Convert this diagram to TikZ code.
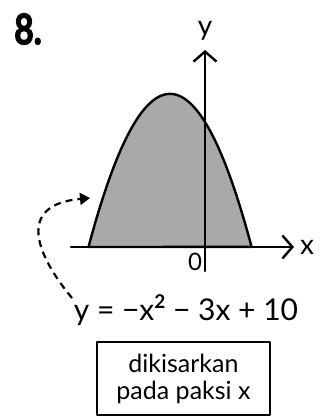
\documentclass[tikz,border=0pt]{standalone}
\usepackage{fontspec}
\setmainfont{Lato}
\newfontfamily\numfont{Lato}[FakeBold=3]
\usepackage{tikz}
\usetikzlibrary{arrows.meta,positioning,calc}
\definecolor{ink}{HTML}{000000}
\definecolor{shade}{HTML}{A8A9AB}
\tikzset{
    every picture/.style={line cap=round,line join=round},
    axisline/.style={draw=ink,line width=2.4pt,
      -{Straight Barb[length=10pt,width=23pt,line width=2.4pt]}},
    curveline/.style={draw=ink,line width=2.4pt,fill=shade},
    bendarrow/.style={draw=ink,line width=2.2pt,dash pattern=on 7pt off 5pt,line cap=butt,
      -{Triangle[length=10pt,width=12pt]}},
    handlabel/.style={text=ink,inner sep=0pt,font=\fontsize{28}{30}\selectfont},
    notebox/.style={draw=ink,line width=2.2pt,minimum width=173pt,minimum height=73pt,
      inner sep=0pt,align=center,font=\fontsize{25}{27}\selectfont}
}

\begin{document}
\begin{tikzpicture}[x=1pt,y=1pt]
  \useasboundingbox (0,0) rectangle (330,417);
  % question number
  \node[inner sep=0pt,font=\numfont\bfseries\fontsize{42}{42}\selectfont] (num) at (28,388)
    {\scalebox{0.8}[1]{8.}};
  % parabola y = -x^2 - 3x + 10
  \coordinate (O) at (205,170);
  \begin{scope}[shift={(O)},x=23.3pt,y=12.5pt]
    \draw[curveline] plot[domain=-5:2,samples=80,smooth] (\x,{-\x*\x-3*\x+10}) -- cycle;
  \end{scope}
  % axes
  \coordinate (xl) at (71,170);  \coordinate (xr) at (294,170);
  \coordinate (yb) at (205,146); \coordinate (yt) at (205,367);
  \draw[axisline] (xl) -- (xr);
  \draw[axisline] (yb) -- (yt);
  \node[handlabel,right=6pt of xr] (xlab) {x};
  \node[handlabel,above=9pt of yt] (ylab) {y};
  \node[handlabel,font=\fontsize{24}{24}\selectfont] (zero) at (195,155) {0};
  % equation and note
  \node[handlabel,font=\fontsize{30}{32}\selectfont] (eq) at (186,107)
    {y = −x\raisebox{0.75ex}{\fontsize{19}{19}\selectfont\bfseries 2} − 3x + 10};
  \node[notebox] (note) at (183.5,38.5) {dikisarkan\\pada paksi x};
  % dashed pointer to the region
  \coordinate (start) at (72,119);
  \coordinate (tip) at (90,219);
  \draw[bendarrow] (start) .. controls (38,160) and (14,212) .. (tip);
\end{tikzpicture}
\end{document}
